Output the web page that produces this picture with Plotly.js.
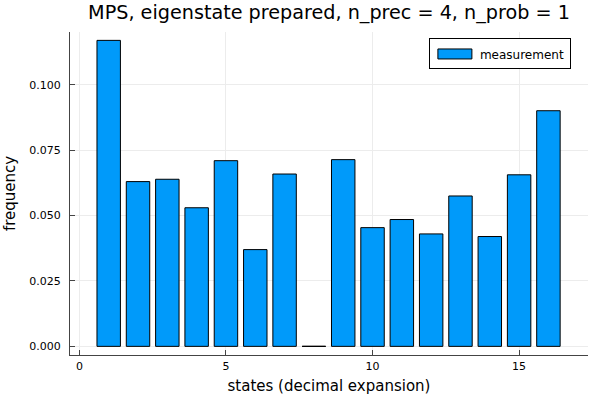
<!DOCTYPE html>
<html>
<head>
<meta charset="utf-8">
<script src="https://cdn.plot.ly/plotly-3.0.1.min.js"></script>
<style>
  html, body { margin: 0; padding: 0; background: #fff; }
  #chart { width: 600px; height: 400px; }
</style>
</head>
<body>
<div id="chart"></div>
<script>
// ─── Data ────────────────────────────────────────────────────────────────────
const states = [1, 2, 3, 4, 5, 6, 7, 8, 9, 10, 11, 12, 13, 14, 15, 16];
const frequency = [0.1170, 0.0630, 0.0639, 0.0530, 0.0710, 0.0370, 0.0659, 0.0,
                   0.0714, 0.0454, 0.0485, 0.0430, 0.0575, 0.0420, 0.0656, 0.0901];
const yTicks = [0, 0.025, 0.05, 0.075, 0.1];
const xTicks = [0, 5, 10, 15];

const BAR_WIDTH = 0.8;
const FONT = 'DejaVu Sans, sans-serif';

// Plotly skips zero-height bars; draw them as a flat black segment instead
const zeroX = [];
const zeroY = [];
states.forEach((s, i) => {
  if (frequency[i] === 0) {
    zeroX.push(s - BAR_WIDTH / 2, s + BAR_WIDTH / 2, null);
    zeroY.push(0, 0, null);
  }
});

const traces = [
  {
    type: 'bar',
    x: states,
    y: frequency,
    width: BAR_WIDTH,
    name: 'measurement',
    marker: { color: '#009AFA', line: { color: '#000000', width: 1 } },
  },
  {
    type: 'scatter',
    mode: 'lines',
    x: zeroX,
    y: zeroY,
    line: { color: '#000000', width: 1 },
    showlegend: false,
    hoverinfo: 'skip',
  },
];

const axisCommon = {
  showline: true,
  linecolor: '#444444',
  linewidth: 1,
  mirror: false,
  ticks: 'inside',
  ticklen: 5,
  tickcolor: '#444444',
  gridcolor: '#ececec',
  gridwidth: 1,
  zeroline: false,
  tickfont: { family: FONT, size: 11, color: '#000000' },
};

const layout = {
  width: 600,
  height: 400,
  paper_bgcolor: '#ffffff',
  plot_bgcolor: '#ffffff',
  font: { family: FONT, color: '#000000' },
  margin: { l: 70, r: 12, t: 32, b: 45 },
  title: {
    text: 'MPS, eigenstate prepared, n_prec = 4, n_prob = 1',
    font: { family: FONT, size: 19.2, color: '#000000' },
    x: 0.5,
    xref: 'paper',
    y: 0.97,
    yref: 'container',
    yanchor: 'middle',
  },
  xaxis: Object.assign({}, axisCommon, {
    range: [-0.32, 17.35],
    tickvals: xTicks,
    ticktext: xTicks.map(String),
    ticklabelstandoff: 1,
    title: { text: 'states (decimal expansion)', font: { family: FONT, size: 15 }, standoff: 8 },
  }),
  yaxis: Object.assign({}, axisCommon, {
    range: [-0.0033, 0.1202],
    tickvals: yTicks,
    ticktext: yTicks.map(v => v.toFixed(3)),
    ticklabelstandoff: 6,
    title: { text: 'frequency', font: { family: FONT, size: 15 }, standoff: 10 },
  }),
  showlegend: true,
  legend: {
    x: 0.967,
    xanchor: 'right',
    y: 0.98,
    yanchor: 'top',
    bgcolor: '#ffffff',
    bordercolor: '#000000',
    borderwidth: 1,
    itemwidth: 40,
    font: { family: FONT, size: 12, color: '#000000' },
  },
  bargap: 0.2,
};

Plotly.newPlot('chart', traces, layout, { displayModeBar: false, staticPlot: true }).then(gd => {
  // Julia/GR style legend swatch: a wide rectangle instead of Plotly's square
  gd.querySelectorAll('.legend .legendpoints path').forEach(p => {
    p.setAttribute('d', 'M-17,5H17V-5H-17Z');
  });
});
</script>
</body>
</html>
